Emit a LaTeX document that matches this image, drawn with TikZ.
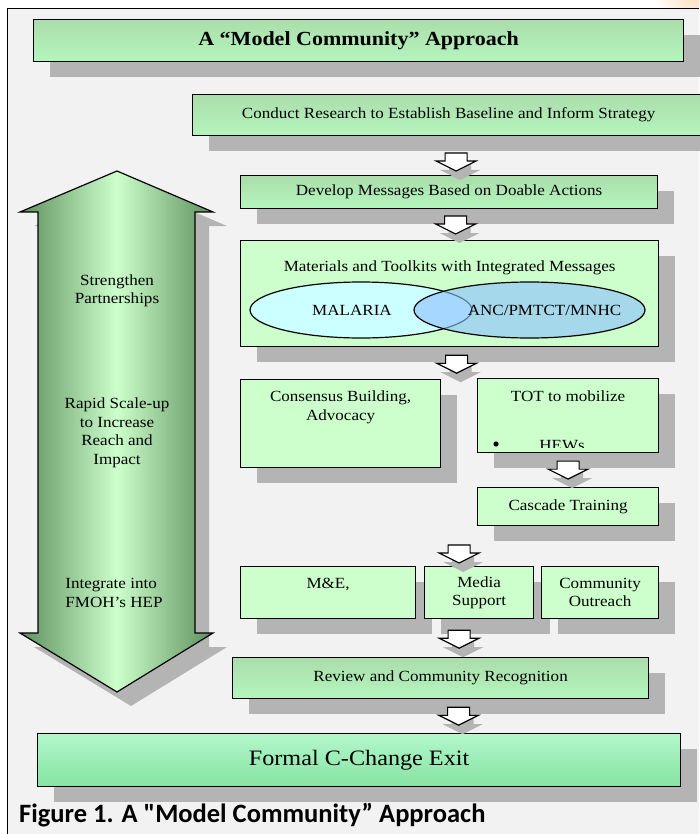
\documentclass[tikz,border=0pt]{standalone}
\usepackage{fontspec}
\setmainfont[FakeStretch=1.1]{Liberation Serif}
\newfontfamily\capfont{Carlito}
\usetikzlibrary{calc,shadows,shapes.geometric}

\definecolor{bggray}{HTML}{F2F2F2}
\definecolor{boxgreen}{HTML}{CCFFCC}
\definecolor{gradtop}{HTML}{ABDDAB}
\definecolor{gradbot}{HTML}{B4F5BE}
\definecolor{exittop}{HTML}{B2F8CA}
\definecolor{exitmid}{HTML}{A2F2BA}
\definecolor{exitbot}{HTML}{86E2A2}
\definecolor{shadowgray}{HTML}{B4B4B4}
\definecolor{arrowdark}{HTML}{5E8F5E}
\definecolor{malariacyan}{HTML}{CCFFFF}
\definecolor{ancblue}{HTML}{8FC1FF}

\tikzset{
  txt/.style={font=\fontsize{15.5}{18.5}\selectfont, align=center, inner sep=0pt},
  box/.style={txt, draw, line width=1.2pt, fill=boxgreen, anchor=north west,
    general shadow={fill=shadowgray, shadow xshift=16pt, shadow yshift=-15pt}},
  gradbox/.style={box, top color=gradtop, middle color=boxgreen, bottom color=gradbot},
  exitbox/.style={box, top color=exittop, middle color=exitmid, bottom color=exitbot},
  venn/.style={draw, line width=1.2pt, ellipse, inner sep=0pt},
  downarr/.pic={
    \draw[line width=1.2pt, fill=white,
      general shadow={fill=shadowgray, shadow xshift=4pt, shadow yshift=-9pt}]
      (-11,-9) -- (11,-9) -- (11,-1) -- (20,-1) -- (0,9) -- (-20,-1) -- (-11,-1) -- cycle;
  }
}

\begin{document}
\begin{tikzpicture}[x=1pt,y=-1pt]
  \useasboundingbox (0,0) rectangle (699,834);
  % page and frame
  \fill[white] (0,0) rectangle (699,834);
  \begin{scope}
    \clip (600,0) rectangle (699,8);
    \shade[inner color=orange!30, outer color=white] (699,-12) circle (48);
  \end{scope}
  \fill[bggray] (7.5,8.5) rectangle (699,834);
  \draw[line width=1.5pt] (7.5,834) -- (7.5,8.5) -- (699,8.5);

  % two-way arrow on the left
  \draw[line width=1.2pt, left color=arrowdark, right color=arrowdark, middle color=boxgreen,
    general shadow={fill=shadowgray, shadow xshift=14pt, shadow yshift=-14pt}]
    (117,171) -- (213,212) -- (195,212) -- (195,633) -- (213,633) -- (117,692)
    -- (20,633) -- (38,633) -- (38,212) -- (20,212) -- cycle;
  \node[txt] (partner) at (117,291) {Strengthen\\Partnerships};
  \node[txt] (scaleup) at (117,433) {Rapid Scale-up\\to Increase\\Reach and\\Impact};
  \node[txt, align=left] (integrate) at (114,593) {Integrate into\\FMOH’s HEP};

  % boxes
  \node[gradbox, minimum width=650, minimum height=42, font=\bfseries\fontsize{20}{24}\selectfont] (title) at (33,19) {A “Model Community” Approach};
  \node[gradbox, minimum width=512, minimum height=41] (conduct) at (192,94) {Conduct Research to Establish Baseline and Inform Strategy};
  \node[gradbox, minimum width=417, minimum height=33] (develop) at (240,175) {Develop Messages Based on Doable Actions};

  \node[box, minimum width=418, minimum height=106] (materials) at (240,240) {};
  \node[txt, anchor=base] (mattitle) at ($(materials.north)+(0,31)$) {Materials and Toolkits with Integrated Messages};
  \node[venn, fill=malariacyan, minimum width=222, minimum height=56] (malaria) at (361,310) {};
  \node[venn, fill=ancblue, fill opacity=0.62, minimum width=231, minimum height=56] (anc) at (529.5,310) {};
  \node[txt] (malariatxt) at ($(malaria.center)+(-9,0)$) {MALARIA};
  \node[txt] (anctxt) at ($(anc.center)+(15,0)$) {ANC/PMTCT/MNHC};

  \node[box, minimum width=200, minimum height=88] (consensus) at (240,379) {};
  \node[txt, anchor=north] (constxt) at ($(consensus.north)+(0,12)$) {Consensus Building,\\Advocacy};

  \node[box, minimum width=181, minimum height=74] (tot) at (477,378) {};
  \node[txt, anchor=base] (tottxt) at ($(tot.north)+(0,23)$) {TOT to mobilize};
  \fill (496,444) circle (2.6);
  \begin{scope}
    \clip (tot.north west) rectangle ($(tot.south east)+(0,-6)$);
    \node[txt, anchor=base] (hews) at (562,450) {HEWs};
  \end{scope}

  \node[box, minimum width=181, minimum height=38] (cascade) at (477,487) {Cascade Training};

  \node[box, minimum width=175, minimum height=52] (mande) at (240,566) {M\&E,\\~};
  \node[box, minimum width=109, minimum height=52] (media) at (424,566) {Media\\Support};
  \node[box, minimum width=117, minimum height=52] (outreach) at (541,566) {Community\\Outreach};

  \node[gradbox, minimum width=416, minimum height=41] (review) at (232,657) {Review and Community Recognition};
  \node[exitbox, minimum width=643, minimum height=53, font=\fontsize{22}{26}\selectfont] (exit) at (37,733) {Formal C-Change Exit};

  % block arrows between the steps
  \pic at ($(develop.north)+(7,-13)$) {downarr};
  \pic at ($(materials.north)+(6,-15)$) {downarr};
  \pic at ($(materials.south)+(7,17)$) {downarr};
  \pic at ($(tot.south)!.5!(cascade.north)$) {downarr};
  \pic at ($(media.north)+(-20,-12)$) {downarr};
  \pic at ($(media.south)+(-20,20)$) {downarr};
  \pic at ($(review.south)+(18,17)$) {downarr};

  \node[anchor=base west, inner sep=0pt, font=\capfont\bfseries\fontsize{26.5}{30}\selectfont] (caption) at (19,822) {Figure 1. A "Model Community” Approach};
\end{tikzpicture}
\end{document}
